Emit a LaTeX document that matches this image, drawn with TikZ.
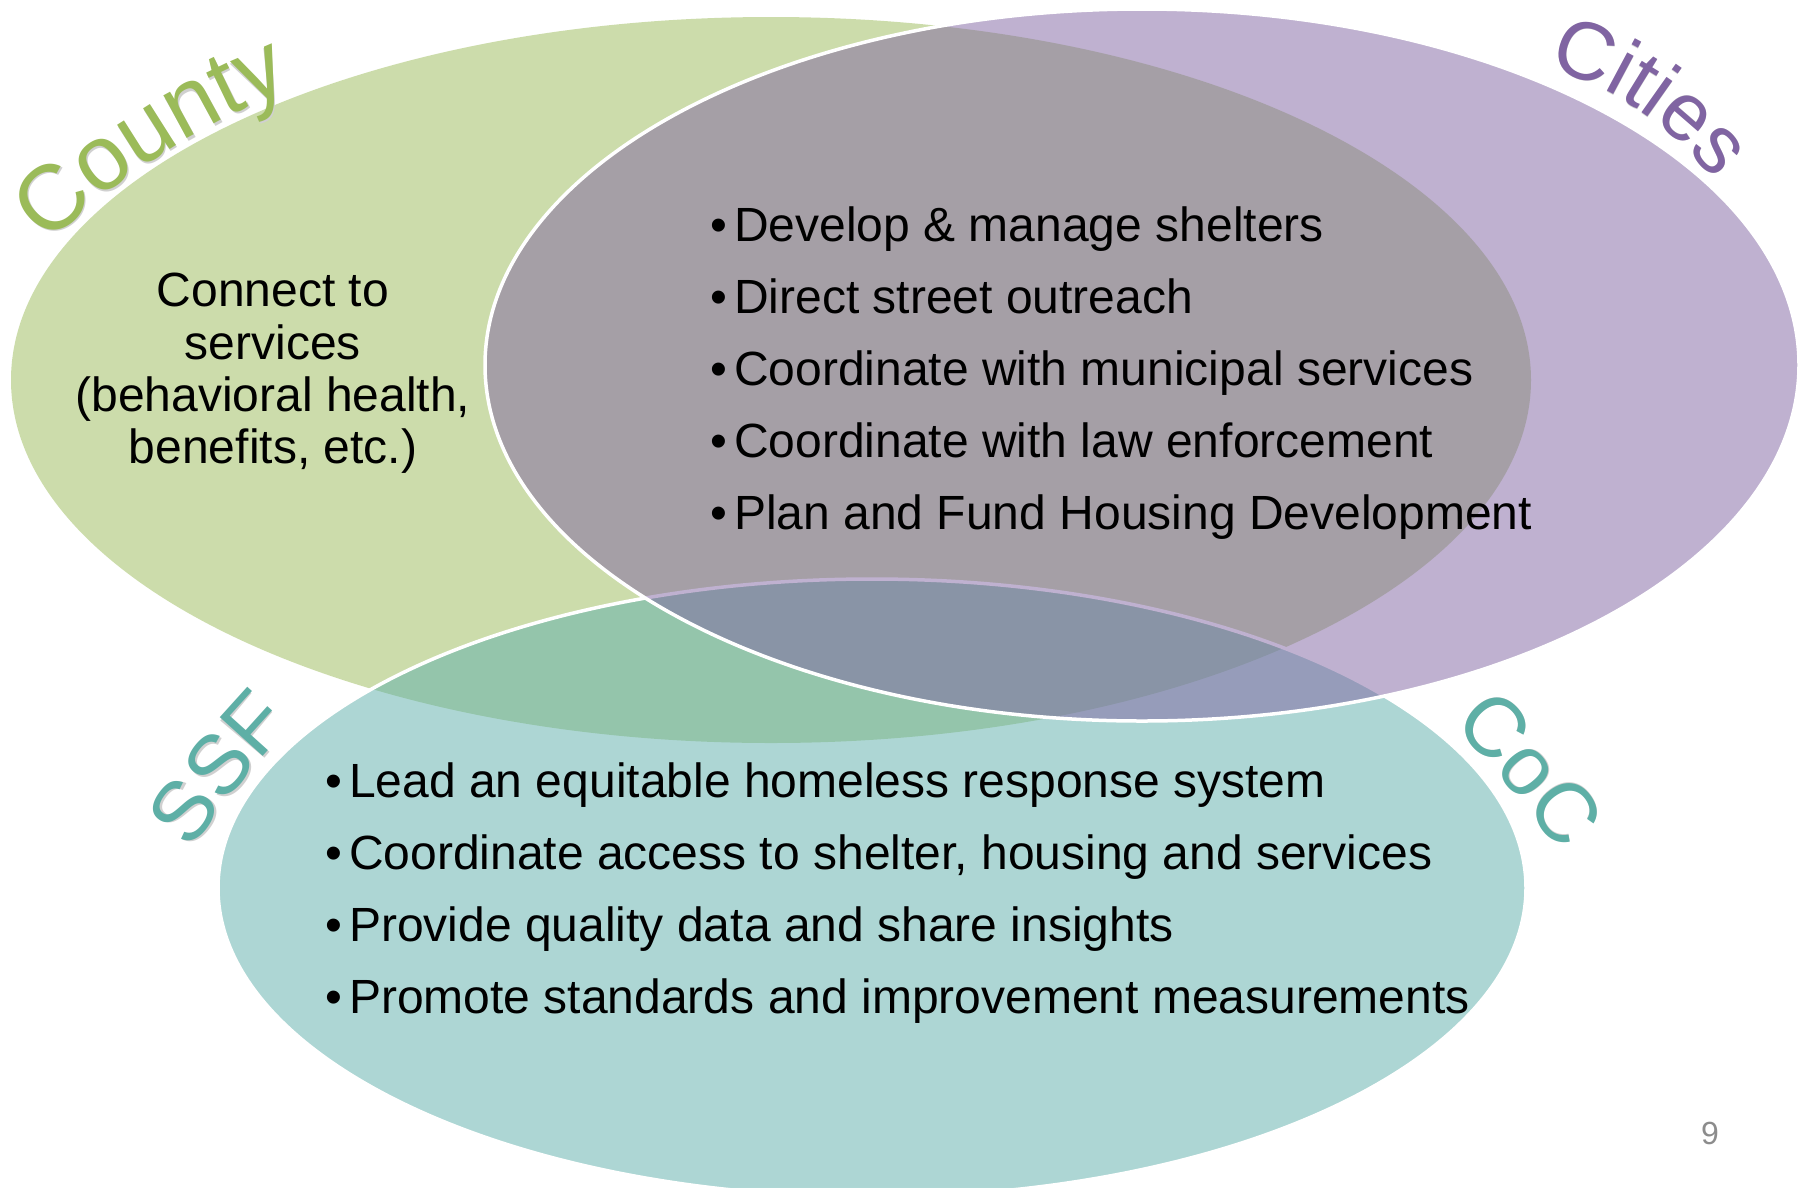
\documentclass[tikz,border=0pt]{standalone}
\usepackage{fontspec}
\setmainfont{Liberation Sans}
\usetikzlibrary{decorations.text}
\definecolor{cgreen}{HTML}{9BBB59}
\definecolor{cpurple}{HTML}{8064A2}
\definecolor{cteal}{HTML}{5DAFAB}
\definecolor{lteal}{HTML}{5EAFA6}
\definecolor{pgnum}{HTML}{8C8C8C}
\definecolor{shadowgray}{HTML}{D0D0D0}
\newcommand{\bodyfont}{\fontsize{48}{52}\selectfont}
\newcommand{\lblA}{\fontsize{92}{92}\selectfont}
\newcommand{\lblB}{\fontsize{82}{82}\selectfont}
\newcommand{\lblC}{\fontsize{84}{84}\selectfont}
\newcommand{\bul}{\makebox[0.5em][l]{•}}
\begin{document}
\begin{tikzpicture}[x=1pt,y=-1pt,
  blob/.style={fill opacity=0.5, draw=white, draw opacity=1, line width=3.5pt},
  listline/.style={inner sep=0pt, anchor=base west, font=\bodyfont, text=black},
  cline/.style={inner sep=0pt, anchor=base, font=\bodyfont, text=black},
  lbl/.style={decorate, decoration={text along path, text align=center, text={#1}}}]
\useasboundingbox[fill=white] (0,0) rectangle (1799,1187);
% ellipses
\fill[cgreen, fill opacity=0.5] (771,380) ellipse [x radius=760pt, y radius=363pt];
\path[blob, fill=cteal] (872,888) ellipse [x radius=654pt, y radius=309pt];
\path[blob, fill=cpurple] (1142,365) ellipse [x radius=657pt, y radius=356pt];
% label paths
\coordinate (ca) at (32,262); \coordinate (cb) at (314,80);
\coordinate (ia) at (1534,64); \coordinate (ib) at (1722,192);
\coordinate (sa) at (180,866); \coordinate (sb) at (306,710);
\coordinate (oa) at (1439,712); \coordinate (ob) at (1570,868);
% label shadows
\begin{scope}[shift={(3,3)}]
\path[lbl={|\lblA\color{shadowgray}|County}] (ca) .. controls (104,182) and (202,122) .. (cb);
\path[lbl={|\lblB\color{shadowgray}|Cities}] (ia) .. controls (1609,82) and (1678,128) .. (ib);
\path[lbl={|\lblC\color{shadowgray}|SSF}] (sa) .. controls (221,805) and (255,763) .. (sb);
\path[lbl={|\lblC\color{shadowgray}|CoC}] (oa) .. controls (1492,763) and (1529,807) .. (ob);
\end{scope}
% labels
\path[lbl={|\lblA\color{cgreen}|County}] (ca) .. controls (104,182) and (202,122) .. (cb);
\path[lbl={|\lblB\color{cpurple}|Cities}] (ia) .. controls (1609,82) and (1678,128) .. (ib);
\path[lbl={|\lblC\color{lteal}|SSF}] (sa) .. controls (221,805) and (255,763) .. (sb);
\path[lbl={|\lblC\color{lteal}|CoC}] (oa) .. controls (1492,763) and (1529,807) .. (ob);
% county text
\node[cline] (c1) at (273,306) {Connect to};
\node[cline] (c2) at (273,359) {services};
\node[cline] (c3) at (273,411) {(behavioral health,};
\node[cline] (c4) at (273,463) {benefits, etc.)};
% cities list
\node[listline] (p1) at (710,241) {\bul Develop \& manage shelters};
\node[listline] (p2) at (710,313) {\bul Direct street outreach};
\node[listline] (p3) at (710,385) {\bul Coordinate with municipal services};
\node[listline] (p4) at (710,457) {\bul Coordinate with law enforcement};
\node[listline] (p5) at (710,529) {\bul Plan and Fund Housing Development};
% teal list
\node[listline] (t1) at (325,797) {\bul Lead an equitable homeless response system};
\node[listline] (t2) at (325,869) {\bul Coordinate access to shelter, housing and services};
\node[listline] (t3) at (325,941) {\bul Provide quality data and share insights};
\node[listline] (t4) at (325,1013) {\bul Promote standards and improvement measurements};
% page number
\node[inner sep=0pt, font=\fontsize{32}{32}\selectfont, text=pgnum] (pg) at (1710,1133) {9};
\end{tikzpicture}
\end{document}
